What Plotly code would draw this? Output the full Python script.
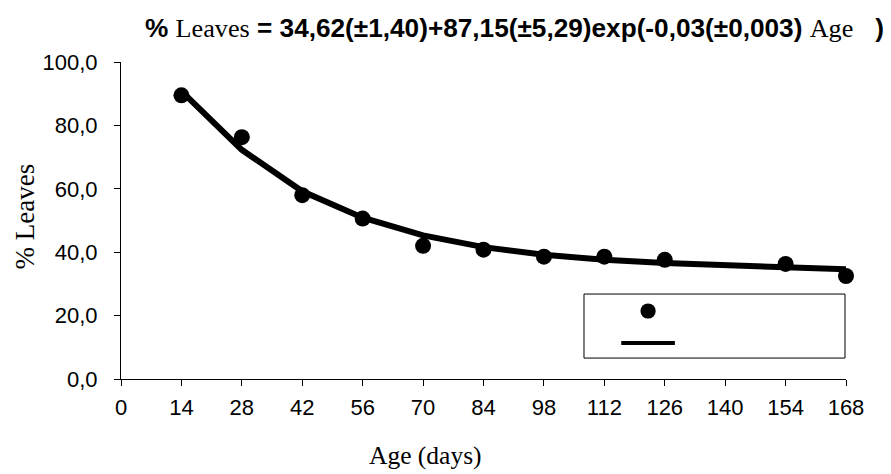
import plotly.graph_objects as go

# Observed data
age_obs = [14, 28, 42, 56, 70, 84, 98, 112, 126, 154, 168]
leaves_obs = [89.5, 76.3, 58.0, 50.6, 42.0, 40.8, 38.6, 38.6, 37.6, 36.3, 32.5]

# Fitted curve values
age_fit = [14, 28, 42, 56, 70, 84, 98, 112, 126, 140, 154, 168]
leaves_fit = [90.8, 72.3, 59.2, 50.9, 45.3, 41.6, 39.2, 37.6, 36.6, 35.9, 35.4, 34.6]

x_ticks = [0, 14, 28, 42, 56, 70, 84, 98, 112, 126, 140, 154, 168]
y_ticks = [0, 20, 40, 60, 80, 100]
y_tick_text = ["0,0", "20,0", "40,0", "60,0", "80,0", "100,0"]

ARIAL = "Liberation Sans, Arial, sans-serif"
TIMES = "Liberation Serif, Times New Roman, serif"

fig = go.Figure()
fig.add_trace(go.Scatter(x=age_fit, y=leaves_fit, mode="lines",
                         line=dict(color="black", width=6), cliponaxis=False,
                         showlegend=False))
fig.add_trace(go.Scatter(x=age_obs, y=leaves_obs, mode="markers",
                         marker=dict(color="black", size=16), cliponaxis=False,
                         showlegend=False))

title = ("<b>%</b> <span style='font-family:Liberation Serif'>Leaves</span> "
         "<b>= 34,62(±1,40)+87,15(±5,29)exp(-0,03(±0,003)</b> "
         "<span style='font-family:Liberation Serif'>Age</span>   <b>)</b>")

fig.add_annotation(text=title, xref="paper", yref="paper", x=0.0303, y=1.107,
                   xanchor="left", yanchor="middle", showarrow=False,
                   font=dict(family=ARIAL, size=26.2, color="black"))

fig.add_annotation(text="Age (days)", xref="paper", yref="paper", x=0.42, y=0,
                   xanchor="center", yanchor="top", yshift=-60, showarrow=False,
                   font=dict(family=TIMES, size=25.5, color="black"))
fig.add_annotation(text="% Leaves", xref="paper", yref="paper", x=0, y=0.5,
                   xanchor="center", yanchor="middle", xshift=-97, yshift=4, textangle=-90,
                   showarrow=False, font=dict(family=TIMES, size=27, color="black"))

# Legend box (no text) drawn as decoration
fig.add_shape(type="rect", xref="paper", yref="paper", x0=0.6386, x1=0.9986,
              y0=0.066, y1=0.268, line=dict(color="black", width=1), fillcolor="white",
              layer="below")
fig.add_shape(type="circle", xref="paper", yref="paper", x0=0.727 - 0.0105, x1=0.727 + 0.0105,
              y0=0.2145 - 0.024, y1=0.2145 + 0.024, line=dict(color="black", width=0),
              fillcolor="black")
fig.add_shape(type="line", xref="paper", yref="paper", x0=0.690, x1=0.764,
              y0=0.1136, y1=0.1136, line=dict(color="black", width=4))

fig.update_layout(
    width=891, height=474,
    margin=dict(l=121, r=45, t=62, b=95),
    plot_bgcolor="white", paper_bgcolor="white",
    font=dict(family=ARIAL, color="black"),
    xaxis=dict(range=[0, 168], tickvals=x_ticks, ticktext=[str(v) for v in x_ticks],
               showgrid=False, zeroline=False, showline=True, linecolor="black",
               linewidth=1, ticks="outside", ticklen=6, tickcolor="black",
               ticklabelstandoff=3,
               tickfont=dict(family=ARIAL, size=22, color="black")),
    yaxis=dict(range=[0, 100], tickvals=y_ticks, ticktext=y_tick_text,
               showgrid=False, zeroline=False, showline=True, linecolor="black",
               linewidth=1, ticks="outside", ticklen=6, tickcolor="black",
               ticklabelstandoff=12,
               tickfont=dict(family=ARIAL, size=22, color="black")),
)

fig.write_html("out.html")
